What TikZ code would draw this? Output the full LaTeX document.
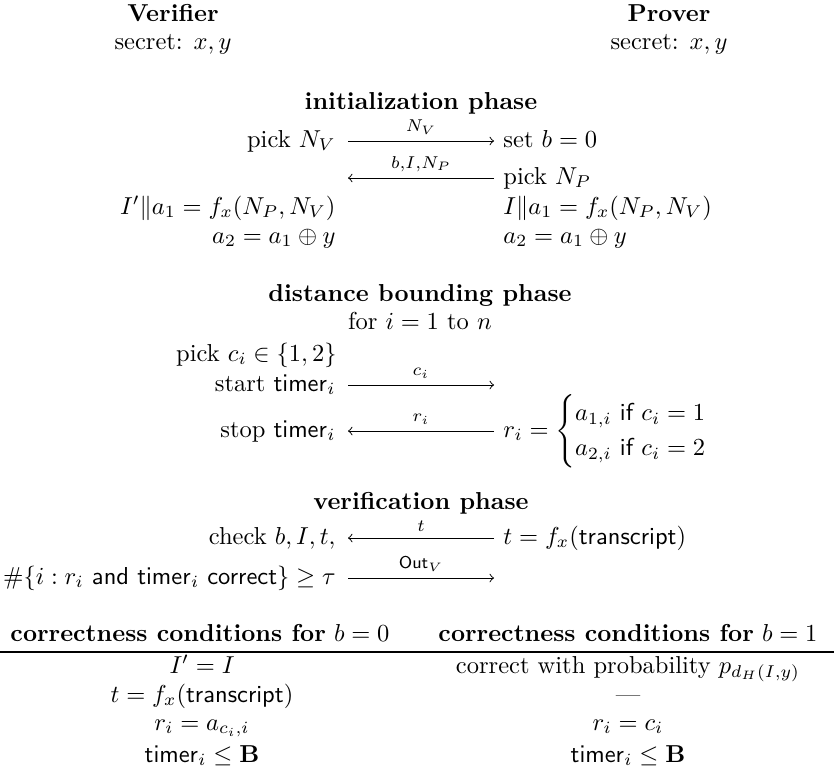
\documentclass[tikz,border=0pt]{standalone}
\usepackage{amsmath,amssymb}
\usetikzlibrary{calc}
\pgfdeclarelayer{edgelayer}
\pgfdeclarelayer{nodelayer}
\pgfsetlayers{edgelayer,nodelayer,main}
\tikzstyle{vtext}=[anchor=base east, inner sep=0pt]
\tikzstyle{ptext}=[anchor=base west, inner sep=0pt]
\tikzstyle{ctext}=[anchor=base, inner sep=0pt]
\tikzstyle{title}=[anchor=base, inner sep=0pt, font=\bfseries]
\tikzstyle{msg}=[draw=black, ->]
\tikzstyle{lbl}=[above=2.5pt, inner sep=0pt]
\tikzstyle{rule}=[draw=black, line width=0.8pt]

\begin{document}
\begin{tikzpicture}[x=0.4082pt, y=-0.4082pt]
						\useasboundingbox (0,0) rectangle (834,768);
						\begin{pgfonlayer}{nodelayer}
							% parties
							\node [style=title] (verifier) at (173, 21) {Verifier};
							\node [style=ctext] (vsecret) at (173, 49) {secret: $x, y$};
							\node [style=title] (prover) at (669, 21) {Prover};
							\node [style=ctext] (psecret) at (669, 49) {secret: $x, y$};
							% initialization phase
							\node [style=title] (init) at (421, 109) {initialization phase};
							\node [style=vtext] (v1) at (336, 147) {pick $N_V$};
							\node [style=ptext] (p1) at (503, 147) {set $b = 0$};
							\coordinate (c2) at (336, 184);
							\node [style=ptext] (p2) at (503, 184) {pick $N_P$};
							\node [style=vtext] (v3) at (336, 214) {$I' \| a_1 = f_x(N_P, N_V)$};
							\node [style=ptext] (p3) at (503, 214) {$I \| a_1 = f_x(N_P, N_V)$};
							\node [style=vtext] (v4) at (336, 243) {$a_2 = a_1 \oplus y$};
							\node [style=ptext] (p4) at (503, 243) {$a_2 = a_1 \oplus y$};
							% distance bounding phase
							\node [style=title] (dbound) at (420, 301) {distance bounding phase};
							\node [style=ctext] (loop) at (420, 329) {for $i = 1$ to $n$};
							\node [style=vtext] (v5a) at (337, 361) {pick $c_i \in \{1, 2\}$};
							\node [style=vtext] (v5) at (336, 391) {start $\mathsf{timer}_i$};
							\coordinate (c5) at (503, 391);
							\node [style=vtext] (v6) at (336, 437) {stop $\mathsf{timer}_i$};
							\node [anchor=west, inner sep=0pt] (p6) at (503, 431) {$r_i = \begin{cases} a_{1,i} \textsf{ if } c_i = 1\\ a_{2,i} \textsf{ if } c_i = 2 \end{cases}$};
							% verification phase
							\node [style=title] (verif) at (421, 509) {verification phase};
							\node [style=vtext] (v7) at (336, 544) {check $b, I, t,$};
							\node [style=ptext] (p7) at (503, 544) {$t = f_x(\textsf{transcript})$};
							\node [style=vtext] (v8) at (336, 584) {$\#\{i : r_i \textsf{ and } \mathsf{timer}_i \textsf{ correct}\} \geq \tau$};
							\coordinate (c8) at (503, 584);
							% correctness conditions
							\node [style=ctext] (h0) at (200, 641) {\textbf{correctness conditions for} $b = 0$};
							\node [style=ctext] (h1) at (628, 641) {\textbf{correctness conditions for} $b = 1$};
							\node [style=ctext] (a1) at (202, 673) {$I' = I$};
							\node [style=ctext] (a2) at (202, 702) {$t = f_x(\textsf{transcript})$};
							\node [style=ctext] (a3) at (202, 730) {$r_i = a_{c_i,i}$};
							\node [style=ctext] (a4) at (202, 762) {$\mathsf{timer}_i \leq \mathbf{B}$};
							\node [style=ctext] (b1) at (628, 673) {correct with probability $p_{d_H(I,y)}$};
							\node [style=ctext] (b2) at (628, 702) {---};
							\node [style=ctext] (b3) at (628, 730) {$r_i = c_i$};
							\node [style=ctext] (b4) at (628, 762) {$\mathsf{timer}_i \leq \mathbf{B}$};
						\end{pgfonlayer}
						\begin{pgfonlayer}{edgelayer}
							\draw [style=msg] ($(v1.base east)+(12,-6)$) to node [style=lbl] {$\scriptstyle N_V$} ($(p1.base west)+(-9,-6)$);
							\draw [style=msg] ($(p2.base west)+(-9,-6)$) to node [style=lbl] {$\scriptstyle b, I, N_P$} ($(c2)+(12,-6)$);
							\draw [style=msg] ($(v5.base east)+(12,-6)$) to node [style=lbl] {$\scriptstyle c_i$} ($(c5)+(-9,-6)$);
							\draw [style=msg] ($(p6.west)+(-9,0)$) to node [style=lbl] {$\scriptstyle r_i$} ($(v6.base east)+(12,-6)$);
							\draw [style=msg] ($(p7.base west)+(-9,-6)$) to node [style=lbl] {$\scriptstyle t$} ($(v7.base east)+(12,-6)$);
							\draw [style=msg] ($(v8.base east)+(12,-6)$) to node [style=lbl] {$\scriptstyle \mathsf{Out}_V$} ($(c8)+(-9,-6)$);
							\draw [style=rule] (0, 652) -- (834, 652);
						\end{pgfonlayer}
					\end{tikzpicture}
\end{document}
